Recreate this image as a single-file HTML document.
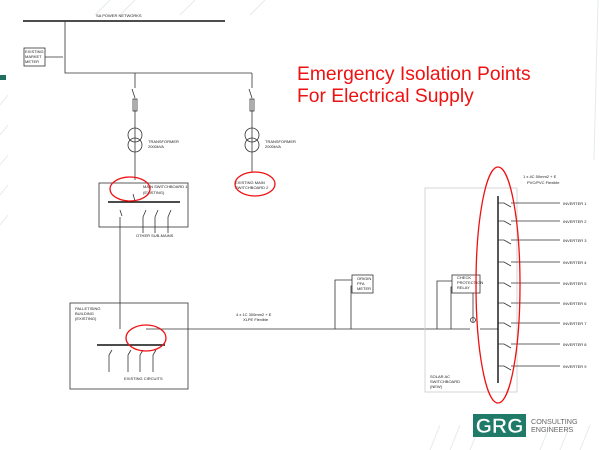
<!DOCTYPE html>
<html><head><meta charset="utf-8"><style>
html,body{margin:0;padding:0;background:#fff;}
svg{display:block;font-family:"Liberation Sans",sans-serif;}
.t{font-size:4px;fill:#222;}
</style></head><body>
<svg width="600" height="450" viewBox="0 0 600 450">
<g stroke="#e3ecea" stroke-width="1">
<line x1="0" y1="105" x2="8" y2="95"/><line x1="0" y1="135" x2="8" y2="125"/><line x1="0" y1="165" x2="8" y2="155"/><line x1="0" y1="195" x2="8" y2="185"/><line x1="0" y1="225" x2="8" y2="215"/>
<line x1="95" y1="15" x2="110" y2="0"/><line x1="120" y1="15" x2="135" y2="0"/><line x1="180" y1="15" x2="195" y2="0"/><line x1="250" y1="15" x2="265" y2="0"/>
<line x1="430" y1="450" x2="440" y2="425"/><line x1="450" y1="450" x2="460" y2="425"/><line x1="470" y1="450" x2="480" y2="425"/><line x1="540" y1="450" x2="550" y2="425"/><line x1="560" y1="450" x2="570" y2="425"/><line x1="580" y1="450" x2="590" y2="425"/>
</g>
<line x1="598" y1="0" x2="594" y2="160" stroke="#e3ecea"/>
<rect x="0" y="75" width="6" height="5" fill="#1f6e60"/>
<text x="297" y="80" font-size="19.3" fill="#ee1111">Emergency Isolation Points</text>
<text x="297" y="102" font-size="19.3" fill="#ee1111">For Electrical Supply</text>

<g stroke="#333" fill="none" stroke-width="0.8">
<line x1="23" y1="21" x2="225" y2="21" stroke-width="1.6" stroke="#111"/>
<polyline points="65,21 65,73 252,73"/>
<line x1="135" y1="73" x2="135" y2="88"/><line x1="135" y1="99" x2="135" y2="180"/>
<line x1="252" y1="73" x2="252" y2="88"/><line x1="252" y1="99" x2="252" y2="172"/>
<line x1="132" y1="89" x2="135" y2="98"/><line x1="249" y1="89" x2="252" y2="98"/>
<rect x="24" y="48" width="21" height="18"/>
<line x1="45" y1="57" x2="63" y2="57"/>
<rect x="133" y="99" width="4" height="12"/><rect x="250" y="99" width="4" height="12"/>
<circle cx="135" cy="135" r="7"/><circle cx="135" cy="145" r="7"/>
<circle cx="252" cy="135" r="7"/><circle cx="252" cy="145" r="7"/>
<rect x="99" y="183" width="89" height="44"/>
<line x1="133" y1="194" x2="135" y2="201"/>
<line x1="108" y1="202" x2="180" y2="202" stroke-width="1.4" stroke="#111"/>
<line x1="120" y1="217" x2="120" y2="329"/><line x1="120" y1="210" x2="122" y2="216"/>
<line x1="143" y1="217" x2="143" y2="233"/><line x1="155" y1="217" x2="155" y2="233"/><line x1="168" y1="217" x2="168" y2="233"/>
<line x1="143" y1="217" x2="146" y2="210"/><line x1="155" y1="217" x2="158" y2="210"/><line x1="168" y1="217" x2="171" y2="210"/>
<rect x="70" y="303" width="118" height="86"/>
<line x1="97" y1="345" x2="165" y2="345" stroke-width="1.4" stroke="#111"/>
<line x1="146" y1="329" x2="470" y2="329"/>
<line x1="109" y1="355" x2="109" y2="372"/><line x1="128" y1="355" x2="128" y2="372"/><line x1="140" y1="355" x2="140" y2="372"/><line x1="153" y1="355" x2="153" y2="372"/>
<line x1="109" y1="355" x2="112" y2="350"/><line x1="128" y1="355" x2="131" y2="350"/><line x1="140" y1="355" x2="143" y2="350"/><line x1="153" y1="355" x2="156" y2="350"/>
<rect x="352" y="275" width="21" height="18"/>
<polyline points="335,329 335,280 352,280"/><polyline points="351,329 351,286 352,286"/>
<rect x="425" y="188" width="92" height="204" stroke="#ccc"/>
<rect x="452" y="275" width="28" height="18"/>
<polyline points="437,329 437,281 452,281"/><polyline points="451,329 451,287 452,287"/>
<line x1="473" y1="293" x2="473" y2="322"/>
<circle cx="473" cy="320" r="2.5"/>
<line x1="480" y1="329" x2="498" y2="329"/>
<line x1="498" y1="196" x2="498" y2="383" stroke-width="1.4" stroke="#111"/>
</g>
<g stroke="#333" stroke-width="0.8">
<line x1="511" y1="203" x2="560" y2="203"/><line x1="511" y1="221" x2="560" y2="221"/><line x1="511" y1="240" x2="560" y2="240"/><line x1="511" y1="262" x2="560" y2="262"/><line x1="511" y1="283" x2="560" y2="283"/><line x1="511" y1="303" x2="560" y2="303"/><line x1="511" y1="323" x2="560" y2="323"/><line x1="511" y1="344" x2="560" y2="344"/><line x1="511" y1="366" x2="560" y2="366"/>
<path d="M498 203 L504 203 L511 207 M498 221 L504 221 L511 225 M498 240 L504 240 L511 244 M498 262 L504 262 L511 266 M498 283 L504 283 L511 287 M498 303 L504 303 L511 307 M498 323 L504 323 L511 327 M498 344 L504 344 L511 348 M498 366 L504 366 L511 370" fill="none"/>
</g>
<g class="t">
<text x="96" y="17">SA POWER NETWORKS</text>
<text x="25" y="53">EXISTING</text><text x="25" y="58">MARKET</text><text x="25" y="63">METER</text>
<text x="148" y="143">TRANSFORMER</text><text x="148" y="148">2000kVA</text>
<text x="265" y="143">TRANSFORMER</text><text x="265" y="148">2000kVA</text>
<text x="143" y="188">MAIN SWITCHBOARD 1</text><text x="143" y="194">(EXISTING)</text>
<text x="235" y="184">EXISTING MAIN</text><text x="235" y="189">SWITCHBOARD 2</text>
<text x="136" y="237">OTHER SUB-MAINS</text>
<text x="75" y="310">PALLETISING</text><text x="75" y="315">BUILDING</text><text x="75" y="320">(EXISTING)</text>
<text x="124" y="380">EXISTING CIRCUITS</text>
<text x="236" y="316">4 x 1C 300mm2 + E</text><text x="243" y="321">XLPE Flexible</text>
<text x="357" y="280">ORIGIN</text><text x="357" y="285">PFA</text><text x="357" y="290">METER</text>
<text x="457" y="279">CHECK</text><text x="457" y="284">PROTECTION</text><text x="457" y="289">RELAY</text>
<text x="430" y="378">SOLAR AC</text><text x="430" y="383">SWITCHBOARD</text><text x="430" y="388">(NEW)</text>
<text x="523" y="178">1 x 4C 50mm2 + E</text><text x="527" y="184">PVC/PVC Flexible</text>
<text x="563" y="205">INVERTER 1</text><text x="563" y="223">INVERTER 2</text><text x="563" y="242">INVERTER 3</text><text x="563" y="264">INVERTER 4</text><text x="563" y="285">INVERTER 5</text><text x="563" y="305">INVERTER 6</text><text x="563" y="325">INVERTER 7</text><text x="563" y="346">INVERTER 8</text><text x="563" y="368">INVERTER 9</text>
</g>
<g fill="none" stroke="#ee1111" stroke-width="1.3">
<ellipse cx="130" cy="189" rx="20" ry="12"/>
<ellipse cx="255" cy="184" rx="20" ry="12"/>
<ellipse cx="146" cy="338" rx="20" ry="13"/>
<ellipse cx="498" cy="285" rx="22" ry="118"/>
</g>
<rect x="473" y="414" width="53" height="23" fill="#1f7a68"/>
<text x="499.5" y="433" font-size="21" font-weight="bold" fill="#fff" text-anchor="middle" stroke="#1f7a68" stroke-width="0.6">GRG</text>
<text x="531" y="424" font-size="7.2" fill="#666">CONSULTING</text>
<text x="531" y="432" font-size="7.2" fill="#666">ENGINEERS</text>
</svg>
</body></html>
